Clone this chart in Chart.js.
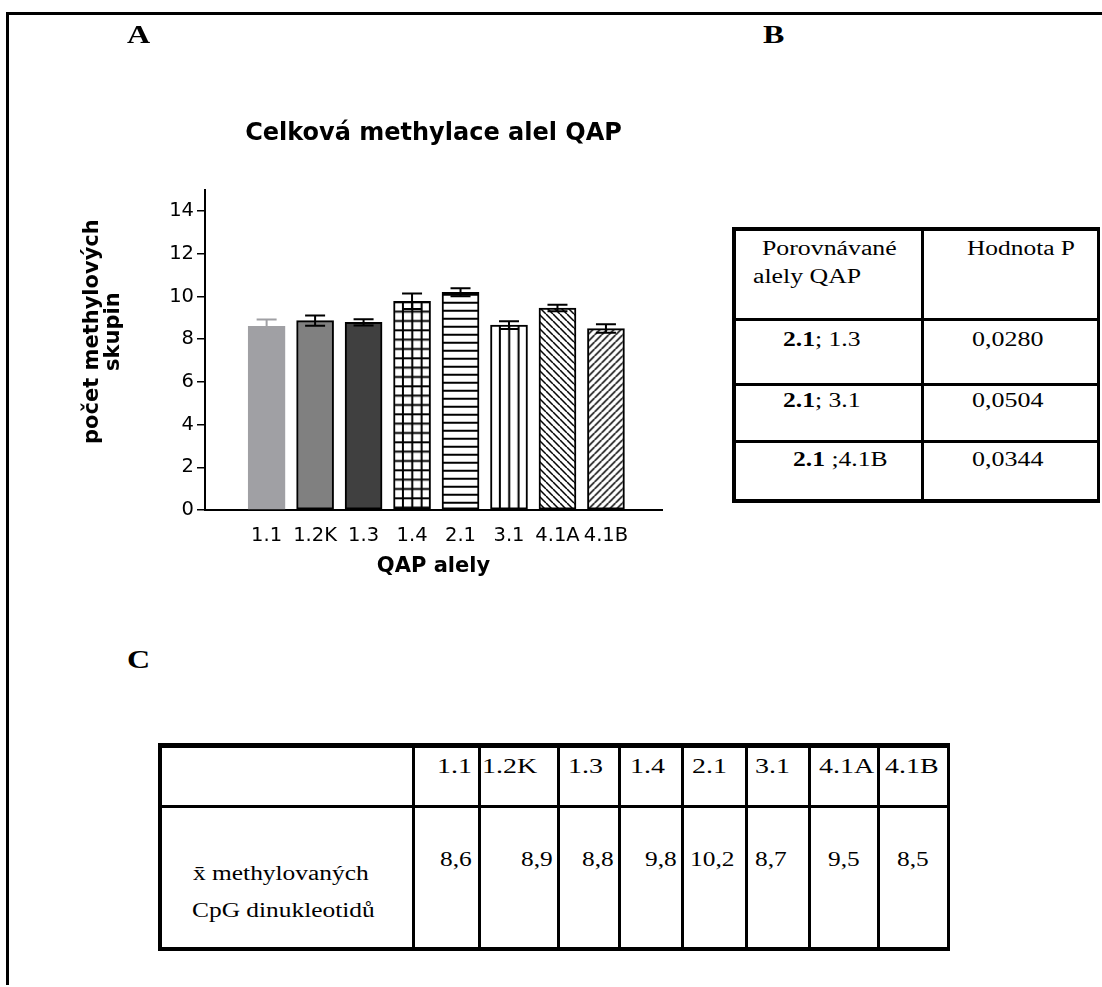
<!DOCTYPE html>
<html lang="cs">
<head>
<meta charset="utf-8">
<title>Celková methylace alel QAP</title>
<script src="https://cdn.jsdelivr.net/npm/chart.js@4.4.0/dist/chart.umd.min.js"></script>
<style>
html, body { margin: 0; padding: 0; background: #fff; }
#stranka { position: relative; width: 1102px; height: 987px; overflow: hidden; background: #fff; }
.cara { position: absolute; background: #000; }
.t { position: absolute; font-family: 'Liberation Serif', 'Times New Roman', serif; line-height: 1; white-space: nowrap; transform-origin: 0 0; color: #000; z-index: 2; }
#obal { position: absolute; left: 0; top: 0; width: 700px; height: 590px; z-index: 1; }
</style>
</head>
<body>
<div id="stranka">
  <div id="obal"><canvas id="graf"></canvas></div>
</div>
<script>
// data grafu
const alely = ['1.1', '1.2K', '1.3', '1.4', '2.1', '3.1', '4.1A', '4.1B'];
const prumer = [8.6, 8.87, 8.79, 9.78, 10.2, 8.66, 9.46, 8.5];
const sem = [0.32, 0.24, 0.15, 0.36, 0.19, 0.18, 0.15, 0.2];
const yTicks = [0, 2, 4, 6, 8, 10, 12, 14];

// tabulka B
const porovnani = ['<b>2.1</b>; 1.3', '<b>2.1</b>; 3.1', '<b>2.1</b> ;4.1B'];
const hodnotyP = ['0,0280', '0,0504', '0,0344'];

// vzhled sloupcu
const vypln = ['#a0a0a4', '#808080', '#404040', 'mrizka', 'vodorovne', 'svisle', 'sikmoL', 'sikmoP'];
const obrys = ['#a0a0a4', '#000', '#000', '#000', '#000', '#000', '#000', '#000'];

const stranka = document.getElementById('stranka');

function cara(x, y, w, h) {
  const d = document.createElement('div');
  d.className = 'cara';
  d.style.left = x + 'px';
  d.style.top = y + 'px';
  d.style.width = w + 'px';
  d.style.height = h + 'px';
  stranka.appendChild(d);
}

function napis(text, x, base, size, sx, bold) {
  const d = document.createElement('div');
  d.className = 't';
  d.style.left = x + 'px';
  d.style.top = (base - 0.8375 * size) + 'px';
  d.style.fontSize = size + 'px';
  if (bold) d.style.fontWeight = 'bold';
  if (sx !== 1) d.style.transform = 'scaleX(' + sx + ')';
  d.innerHTML = text;
  stranka.appendChild(d);
}

// ramecek stranky
cara(6, 12, 1096, 3);
cara(6, 12, 3, 973);

// pismena
napis('A', 127, 43, 25, 1.28, true);
napis('B', 763, 43, 25, 1.28, true);
napis('C', 127, 668, 25, 1.28, true);

// tabulka B
cara(732, 227, 368, 3.5);
cara(732, 227, 3.5, 276);
cara(732, 499, 368, 4);
cara(1097, 227, 3, 276);
cara(921, 227, 3, 276);
cara(732, 317.5, 368, 3);
cara(732, 383, 368, 3);
cara(732, 439.5, 368, 3);
napis('Porovnávané', 761.7, 255, 20, 1.29, false);
napis('alely QAP', 753, 283, 20, 1.29, false);
napis('Hodnota P', 966.7, 255, 20, 1.27, false);
const radkyB = [346, 407, 466];
const levaB = [783, 783, 793];
porovnani.forEach((p, i) => {
  napis(p, levaB[i], radkyB[i], 20, 1.28, false);
  napis(hodnotyP[i], 971.7, radkyB[i], 20, 1.3, false);
});

// tabulka C
const sloupceC = [411.5, 477.5, 556.5, 617.5, 680.5, 744.5, 807.5, 877];
const praveC = 950;
cara(158, 743, praveC - 158, 4.5);
cara(158, 743, 4, 208);
cara(158, 947, praveC - 158, 4);
cara(praveC - 3, 743, 3, 208);
cara(158, 805, praveC - 158, 3);
sloupceC.forEach(x => cara(x, 743, 3, 208));
const hlavickaX = [437, 482, 568, 629.5, 692, 754.5, 818.5, 884.5];
alely.forEach((a, i) => napis(a, hlavickaX[i], 773, 22, 1.27, false));
const hodnotyX = [440, 521, 582, 645, 690, 755, 828, 897];
prumer.forEach((m, i) => napis(m.toFixed(1).replace('.', ','), hodnotyX[i], 866, 20, 1.27, false));
napis('x\u0304 methylovaných', 193, 880, 20, 1.27, false);
napis('CpG dinukleotidů', 192, 917, 20, 1.27, false);

// vzorky sloupcu
function dlazdice(typ) {
  const c = document.createElement('canvas');
  let w = 28, h = 28;
  if (typ === 'vodorovne') { w = 8; h = 8; }
  if (typ === 'sikmoL' || typ === 'sikmoP') { w = 7; h = 7; }
  c.width = w; c.height = h;
  const g = c.getContext('2d');
  g.fillStyle = '#fff';
  g.fillRect(0, 0, w, h);
  g.fillStyle = '#000';
  if (typ === 'mrizka' || typ === 'svisle') {
    for (let k = 0; k < 3; k++) g.fillRect(k * 28 / 3, 0, 2, h);
  }
  if (typ === 'mrizka') {
    for (let k = 0; k < 3; k++) g.fillRect(0, k * 28 / 3, w, 2);
  }
  if (typ === 'vodorovne') g.fillRect(0, 0, w, 2);
  if (typ === 'sikmoL' || typ === 'sikmoP') {
    g.strokeStyle = '#000';
    g.lineWidth = 1.5;
    g.beginPath();
    for (let k = -1; k <= 1; k++) {
      if (typ === 'sikmoL') { g.moveTo(k * w, 0); g.lineTo(k * w + w, h); }
      else { g.moveTo(k * w, h); g.lineTo(k * w + w, 0); }
    }
    g.stroke();
  }
  return c;
}

function barva(context) {
  const i = context.dataIndex;
  const typ = vypln[i];
  if (typ.startsWith('#')) return typ;
  const chart = context.chart;
  if (!chart.chartArea || !chart.scales.x) return '#fff';
  const vzor = chart.ctx.createPattern(dlazdice(typ), 'repeat');
  const levy = chart.scales.x.getPixelForValue(i) - 18.5;
  const dno = chart.scales.y.getPixelForValue(0);
  let tx = levy + 28 / 3 - 1, ty = dno - 12.7;
  if (typ === 'vodorovne') ty = dno - 8.3;
  if (typ === 'sikmoL' || typ === 'sikmoP') { tx = levy; ty = dno; }
  vzor.setTransform(new DOMMatrix().translate(tx, ty));
  return vzor;
}

// chybove usecky
const chybovky = {
  id: 'chybovky',
  afterDatasetsDraw(chart) {
    const { ctx, scales: { x, y } } = chart;
    ctx.save();
    ctx.lineWidth = 2;
    prumer.forEach((m, i) => {
      const px = x.getPixelForValue(i);
      const hore = y.getPixelForValue(m + sem[i]);
      const dole = y.getPixelForValue(m - sem[i]);
      ctx.strokeStyle = obrys[i];
      ctx.beginPath();
      ctx.moveTo(px, hore); ctx.lineTo(px, dole);
      ctx.moveTo(px - 10, hore); ctx.lineTo(px + 10, hore);
      ctx.moveTo(px - 10, dole); ctx.lineTo(px + 10, dole);
      ctx.stroke();
    });
    ctx.restore();
  }
};

Chart.defaults.font.family = "'DejaVu Sans', sans-serif";
Chart.defaults.color = '#000';

// titulek osy y je v originale posunuty nahoru, proto mezery na zacatku
const odsazeni = '\u00a0\u00a0\u00a0\u00a0\u00a0';

new Chart(document.getElementById('graf').getContext('2d'), {
  type: 'bar',
  data: {
    datasets: [{
      data: prumer.map((m, i) => ({ x: i, y: m })),
      backgroundColor: barva,
      borderColor: obrys,
      borderWidth: 2,
      borderSkipped: false,
      barThickness: 37
    }]
  },
  options: {
    responsive: true,
    maintainAspectRatio: false,
    animation: false,
    layout: { padding: { left: 0, top: 0, right: 38, bottom: 11 } },
    plugins: {
      legend: { display: false },
      tooltip: { enabled: false },
      title: {
        display: true,
        text: 'Celková methylace alel QAP',
        fullSize: false,
        color: '#000',
        font: { size: 24, weight: 'bold', lineHeight: 1.2 },
        padding: { top: 119, bottom: 42 }
      }
    },
    scales: {
      x: {
        type: 'linear',
        min: -0.682,
        max: 7.567,
        afterFit: s => { s.height = 69; },
        afterBuildTicks: s => { s.ticks = alely.map((a, i) => ({ value: i })); },
        ticks: { callback: v => alely[v], color: '#000', font: { size: 19.5 }, padding: 6, autoSkip: false, maxRotation: 0 },
        grid: { display: false },
        border: { display: true, color: '#000', width: 2 },
        title: { display: true, text: 'QAP alely', color: '#000', font: { size: 21, weight: 'bold', lineHeight: 1.2 }, padding: { top: 0, bottom: 0 } }
      },
      y: {
        min: 0,
        max: 15,
        afterFit: s => { s.width = 205; },
        afterBuildTicks: s => { s.ticks = yTicks.map(v => ({ value: v })); },
        ticks: { color: '#000', font: { size: 19.5 }, padding: 3 },
        grid: { drawOnChartArea: false, drawTicks: true, tickLength: 8, color: '#000', lineWidth: 1.5 },
        border: { display: true, color: '#000', width: 2 },
        title: { display: true, text: [odsazeni + 'počet methylových', odsazeni + 'skupin'], color: '#000', font: { size: 21, weight: 'bold', lineHeight: 1.0 }, padding: { top: 82, bottom: 0 } }
      }
    }
  },
  plugins: [chybovky]
});
</script>
</body>
</html>
